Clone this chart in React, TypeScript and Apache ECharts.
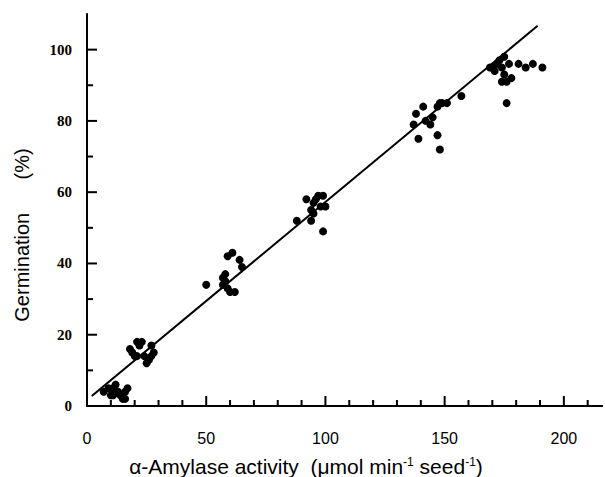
import React, { useEffect, useRef } from "react";
import * as echarts from "echarts";

const amylase: number[] = [
  7, 9, 10, 11, 12, 13, 14, 15, 16, 17, 11, 16,
  18, 19, 20, 21, 21, 23, 22, 25, 26, 27, 28, 24, 27,
  50, 57, 58, 58, 57, 59, 60, 62, 59, 61, 64, 65,
  88, 92, 94, 94, 95, 95, 97, 98, 99, 99, 100, 96,
  137, 138, 139, 141, 144, 145, 147, 148, 147, 148, 149, 151, 157, 142,
  169, 170, 171, 172, 174, 175, 175, 174, 176, 178, 176, 181, 184, 187, 191, 177, 173,
];
const germination: number[] = [
  4, 5, 3, 5, 6, 4, 3, 2, 4, 5, 3, 2,
  16, 15, 14, 14, 18, 18, 17, 12, 13, 14, 15, 14, 17,
  34, 36, 37, 35, 34, 33, 32, 32, 42, 43, 41, 39,
  52, 58, 55, 52, 54, 57, 59, 56, 59, 49, 56, 58,
  79, 82, 75, 84, 79, 81, 76, 72, 84, 85, 85, 85, 87, 80,
  95, 95, 94, 96, 95, 98, 93, 91, 91, 92, 85, 96, 95, 96, 95, 96, 97,
];
const fitX: number[] = [2, 189];
const fitY: number[] = [2.8, 106.7];
const xTicks: number[] = [0, 50, 100, 150, 200];
const xMinorTicks: number[] = [10, 20, 30, 40, 60, 70, 80, 90, 110, 120, 130, 140, 160, 170, 180, 190, 210];
const yTicks: number[] = [0, 20, 40, 60, 80, 100];
const yMinorTicks: number[] = [10, 30, 50, 70, 90];

export default function App() {
  const ref = useRef<HTMLDivElement>(null);
  useEffect(() => {
    if (!ref.current) return;
    const chart = echarts.init(ref.current, null, { renderer: "svg" });
    const pts = amylase.map((x, i) => [x, germination[i]]);
    const line = fitX.map((x, i) => [x, fitY[i]]);
    const axisLineStyle = { color: "#000", width: 2 };
    // tick data: [x, y, axis (0 = x axis, 1 = y axis), major (1) / minor (0)]
    const tickData: number[][] = [
      ...xTicks.filter((v) => v > 0).map((v) => [v, 0, 0, 1]),
      ...xMinorTicks.map((v) => [v, 0, 0, 0]),
      ...yTicks.filter((v) => v > 0).map((v) => [0, v, 1, 1]),
      ...yMinorTicks.map((v) => [0, v, 1, 0]),
    ];
    chart.setOption({
      animation: false,
      backgroundColor: "#fff",
      grid: { left: 87, top: 14, right: 0, bottom: 71 },
      graphic: [
        {
          type: "text", x: 306, y: 466,
          style: {
            text: "α-Amylase activity  (μmol min{sup|-1} seed{sup|-1})",
            fill: "#000", font: "21px 'Liberation Sans'",
            align: "center", verticalAlign: "middle",
            rich: { sup: { fontSize: 12, verticalAlign: "top", lineHeight: 14, fontFamily: "Liberation Sans" } },
          },
        },
        {
          type: "text", x: 22, y: 235, rotation: Math.PI / 2,
          style: {
            text: "Germination      (%)", fill: "#000", font: "20px 'Liberation Sans'",
            align: "center", verticalAlign: "middle",
          },
        },
      ],
      xAxis: [
        {
          type: "value", min: 0, max: 216, interval: 50,
          axisLine: { show: true, onZero: false, lineStyle: axisLineStyle },
          axisTick: { show: false },
          splitLine: { show: false },
          axisLabel: {
            margin: 24, color: "#000", fontSize: 16, fontFamily: "Liberation Sans",
            formatter: (v: number) => (xTicks.includes(v) ? String(v) : ""),
          },
        },
        {
          type: "value", min: 0, max: 216, position: "top",
          axisLine: { show: true, lineStyle: axisLineStyle },
          axisTick: { show: false }, axisLabel: { show: false }, splitLine: { show: false },
        },
      ],
      yAxis: [
        {
          type: "value", min: 0, max: 110, interval: 20,
          axisLine: { show: true, onZero: false, lineStyle: axisLineStyle },
          axisTick: { show: false },
          splitLine: { show: false },
          axisLabel: {
            margin: 15, color: "#000", fontSize: 15, fontWeight: "bold", fontFamily: "Liberation Serif",
            formatter: (v: number) => (yTicks.includes(v) ? String(v) : ""),
          },
        },
      ],
      series: [
        {
          type: "custom", data: tickData, clip: false, silent: true, z: 5,
          renderItem: (params: any, api: any) => {
            const p = api.coord([api.value(0), api.value(1)]);
            const isY = api.value(2) === 1;
            const len = api.value(3) === 1 ? 10 : 6;
            const shape = isY
              ? { x1: p[0], y1: p[1], x2: p[0] + len, y2: p[1] }
              : { x1: p[0], y1: p[1], x2: p[0], y2: p[1] - len };
            return { type: "line", shape, style: { stroke: "#000", lineWidth: 2 } };
          },
        },
        {
          type: "line", data: line, symbol: "none",
          lineStyle: { color: "#000", width: 2 }, z: 3,
        },
        {
          type: "scatter", data: pts, symbol: "circle", symbolSize: 8,
          itemStyle: { color: "#000", opacity: 1 }, z: 4,
        },
      ],
    });
    return () => chart.dispose();
  }, []);
  return (
    <div
      ref={ref}
      style={{ position: "absolute", left: 0, top: 0, width: 605, height: 477 }}
    />
  );
}
